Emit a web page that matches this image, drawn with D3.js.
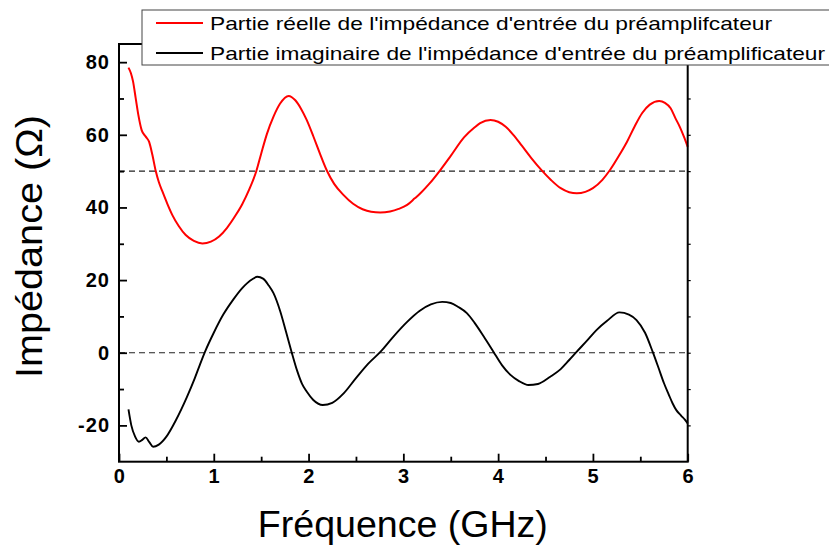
<!DOCTYPE html>
<html>
<head>
<meta charset="utf-8">
<script src="https://cdn.jsdelivr.net/npm/d3@7"></script>
<style>
  html, body { margin: 0; padding: 0; background: #fff; }
  svg { display: block; font-family: "Liberation Sans", Arial, sans-serif; }
</style>
</head>
<body>
<svg id="chart" width="829" height="550"></svg>
<script>
// ---- Data ----
const realFreq = [0.10,0.125,0.148,0.176,0.204,0.239,0.282,0.317,0.352,0.387,0.42,0.458,0.51,0.563,0.63,0.704,0.79,0.88,0.97,1.056,1.14,1.232,1.30,1.373,1.45,1.50,1.56,1.63,1.70,1.79,1.86,1.92,1.98,2.05,2.12,2.19,2.27,2.37,2.47,2.57,2.66,2.756,2.86,2.95,3.04,3.12,3.18,3.27,3.39,3.50,3.64,3.75,3.81,3.92,4.00,4.08,4.16,4.25,4.35,4.46,4.56,4.66,4.75,4.83,4.92,5.00,5.10,5.18,5.29,5.36,5.44,5.52,5.60,5.70,5.76,5.82,5.87,5.92,5.96,6.00];
const realVals = [78.5,77.0,74.7,70.1,65.5,61.3,59.5,58.1,54.5,50.1,47.0,44.4,41.0,37.9,34.9,32.4,30.8,30.1,30.6,32.0,34.4,37.9,40.9,44.9,50.1,54.8,60.2,65.0,68.6,70.7,69.5,67.2,64.1,59.6,54.8,50.3,46.5,43.4,41.0,39.5,38.8,38.6,38.9,39.6,40.7,42.5,43.9,46.4,50.3,54.2,59.3,62.0,63.2,64.1,63.6,62.2,60.0,57.0,53.6,50.2,47.5,45.3,44.2,43.9,44.3,45.3,47.6,50.3,54.9,58.1,62.3,66.0,68.3,69.3,68.8,67.3,64.6,62.0,59.5,56.7];

const imagFreq = [0.10,0.13,0.17,0.21,0.245,0.28,0.32,0.36,0.42,0.50,0.60,0.715,0.80,0.855,0.908,1.00,1.10,1.207,1.30,1.35,1.41,1.46,1.52,1.58,1.63,1.70,1.76,1.82,1.88,1.93,1.98,2.05,2.15,2.25,2.37,2.50,2.63,2.76,2.90,3.04,3.17,3.29,3.41,3.50,3.58,3.67,3.75,3.85,3.95,4.04,4.13,4.22,4.32,4.42,4.55,4.66,4.75,4.83,4.94,5.04,5.15,5.28,5.38,5.46,5.55,5.63,5.69,5.75,5.80,5.84,5.88,5.93,5.97,6.00];
const imagVals = [-15.6,-20.0,-23.1,-24.5,-24.0,-23.3,-24.6,-25.9,-25.3,-23.1,-18.6,-12.3,-7.0,-3.2,0.3,5.5,10.5,14.7,17.8,19.1,20.3,20.9,20.4,18.5,16.4,11.5,6.0,0.3,-5.0,-8.5,-10.7,-13.0,-14.4,-13.8,-11.2,-7.0,-3.0,0.3,4.6,8.5,11.5,13.3,14.0,13.7,12.6,10.9,8.3,4.4,0.3,-3.4,-6.1,-7.8,-8.9,-8.6,-6.6,-4.5,-2.0,0.3,3.4,6.3,8.8,11.1,10.5,9.0,5.5,0.3,-4.0,-8.4,-11.5,-13.9,-15.8,-17.3,-18.4,-19.5];

const xTicks = [0,1,2,3,4,5,6];
const xMinorTicks = [0.5,1.5,2.5,3.5,4.5,5.5];
const yTicks = [-20,0,20,40,60,80];
const yMinorTicks = [-10,10,30,50,70];
const refLines = [50, 0];

const legendLabels = [
  "Partie réelle de l'impédance d'entrée du préamplifcateur",
  "Partie imaginaire de l'impédance d'entrée du préamplificateur"
];
const seriesColors = ["#ff0000", "#000000"];
const xTitle = "Fréquence (GHz)";
const yTitle = "Impédance (Ω)";

// ---- Drawing ----
const svg = d3.select("#chart");
const L = 119, R = 687.7, T = 44, B = 461.7;

const x = d3.scaleLinear().domain([0, 6]).range([L, R]);
const y = d3.scaleLinear().domain([-30, 85]).range([B, T]);

const realData = realFreq.map((f, i) => [f, realVals[i]]);
const imagData = imagFreq.map((f, i) => [f, imagVals[i]]);

// reference dashed lines
svg.selectAll("line.ref").data(refLines).join("line")
  .attr("class", "ref")
  .attr("x1", L).attr("x2", R)
  .attr("y1", d => y(d)).attr("y2", d => y(d))
  .attr("stroke", "#222").attr("stroke-width", 1.1)
  .attr("stroke-dasharray", "6,4");

const line = d3.line()
  .x(d => x(d[0])).y(d => y(d[1]))
  .curve(d3.curveMonotoneX);

svg.append("path").datum(realData)
  .attr("d", line).attr("fill", "none")
  .attr("stroke", seriesColors[0]).attr("stroke-width", 2);

svg.append("path").datum(imagData)
  .attr("d", line).attr("fill", "none")
  .attr("stroke", seriesColors[1]).attr("stroke-width", 1.9);

// axes
const fontTick = "bold 20px 'Liberation Sans', Arial, sans-serif";
const fmt = d => String(d);

const xAxis = svg.append("g").attr("transform", `translate(0,${B})`)
  .call(d3.axisBottom(x).tickValues(xTicks).tickFormat(fmt)
    .tickSizeInner(-8).tickSizeOuter(0).tickPadding(7));
xAxis.select(".domain").remove();
xAxis.selectAll(".tick line").attr("stroke-width", 1.8);
xAxis.selectAll("text").style("font", fontTick).attr("fill", "#000").attr("letter-spacing", "0.5px");

const xMinor = svg.append("g").attr("transform", `translate(0,${B})`)
  .call(d3.axisBottom(x).tickValues(xMinorTicks).tickFormat("")
    .tickSizeInner(-5).tickSizeOuter(0));
xMinor.select(".domain").remove();
xMinor.selectAll(".tick line").attr("stroke-width", 1.8);

const yAxis = svg.append("g").attr("transform", `translate(${L},0)`)
  .call(d3.axisLeft(y).tickValues(yTicks).tickFormat(fmt)
    .tickSizeInner(-8).tickSizeOuter(0).tickPadding(9));
yAxis.select(".domain").remove();
yAxis.selectAll(".tick line").attr("stroke-width", 1.8);
yAxis.selectAll("text").style("font", fontTick).attr("fill", "#000").attr("letter-spacing", "1px");

const yMinor = svg.append("g").attr("transform", `translate(${L},0)`)
  .call(d3.axisLeft(y).tickValues(yMinorTicks).tickFormat("")
    .tickSizeInner(-5).tickSizeOuter(0));
yMinor.select(".domain").remove();
yMinor.selectAll(".tick line").attr("stroke-width", 1.8);

// right axis tiny ticks
const yRight = svg.append("g").attr("transform", `translate(${R},0)`)
  .call(d3.axisRight(y).tickValues(yTicks.concat(yMinorTicks)).tickFormat("")
    .tickSizeInner(3).tickSizeOuter(0));
yRight.select(".domain").remove();
yRight.selectAll(".tick line").attr("stroke-width", 1.2);

// frame
svg.append("rect")
  .attr("x", L).attr("y", T).attr("width", R - L).attr("height", B - T)
  .attr("fill", "none").attr("stroke", "#000").attr("stroke-width", 2);

// axis titles
svg.append("text")
  .attr("x", (L + R) / 2 - 0.5).attr("y", 537)
  .attr("text-anchor", "middle")
  .style("font", "36px 'Liberation Sans', Arial, sans-serif")
  .attr("textLength", 290).attr("lengthAdjust", "spacingAndGlyphs")
  .text(xTitle);

svg.append("text")
  .attr("transform", `translate(42,${(115 + 378) / 2}) rotate(-90)`)
  .attr("text-anchor", "middle")
  .style("font", "37px 'Liberation Sans', Arial, sans-serif")
  .attr("textLength", 263).attr("lengthAdjust", "spacingAndGlyphs")
  .text(yTitle);

// legend
const lg = svg.append("g");
lg.append("rect")
  .attr("x", 142).attr("y", 10).attr("width", 700).attr("height", 55)
  .attr("fill", "#fff").attr("stroke", "#444").attr("stroke-width", 1);

const legendRows = [23, 53];
const legendWidths = [562, 615];
legendLabels.forEach((lab, i) => {
  lg.append("line")
    .attr("x1", 156).attr("x2", 203)
    .attr("y1", legendRows[i]).attr("y2", legendRows[i])
    .attr("stroke", seriesColors[i]).attr("stroke-width", 1.8);
  lg.append("text")
    .attr("x", 210).attr("y", legendRows[i] + 7)
    .style("font", "19px 'Liberation Sans', Arial, sans-serif")
    .attr("textLength", legendWidths[i]).attr("lengthAdjust", "spacingAndGlyphs")
    .text(lab);
});
</script>
</body>
</html>
